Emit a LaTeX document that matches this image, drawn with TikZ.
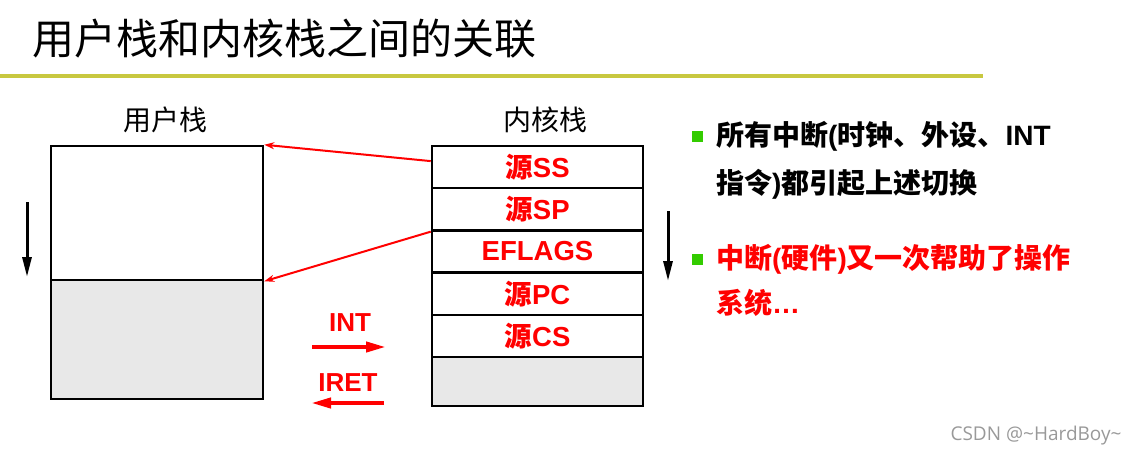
\documentclass[tikz,border=0pt]{standalone}
\usepackage{fontspec}
\setmainfont{Liberation Sans}
\newfontfamily\cjk{Noto Sans CJK SC}
\newfontfamily\wmfont{Open Sans}
\newcommand{\zh}[1]{{\cjk #1}}
\usetikzlibrary{arrows.meta}
\definecolor{titleline}{RGB}{200,200,64}
\definecolor{bulletgreen}{RGB}{51,204,0}
\definecolor{stackgray}{RGB}{232,232,232}
\tikzset{
  redarrow/.style={red, line width=2pt, -{Stealth[length=10pt,width=7pt]}},
  bigarrow/.style={red, line width=4pt, -{Triangle[length=20pt,width=10pt]}},
  growarrow/.style={black, line width=3pt, -{Triangle[length=20pt,width=9pt]}},
  bullet/.style={fill=bulletgreen, minimum size=11pt, inner sep=0pt},
  itemtext/.style={anchor=base west, inner sep=0pt, font=\bfseries\fontsize{28}{28}\selectfont}
}
\begin{document}
\begin{tikzpicture}[x=1pt,y=-1pt]
\useasboundingbox (0,0) rectangle (1137,456);

% title
\node[anchor=west, inner sep=0pt, font=\cjk\fontsize{42}{42}\selectfont] (title) at (32,39) {用户栈和内核栈之间的关联};
\draw[titleline, line width=4pt] (0,76) -- (983,76);

% stack labels
\begin{scope}[every node/.style={font=\cjk\fontsize{28}{28}\selectfont}]
  \node (ulabel) at (165,120) {用户栈};
  \node (klabel) at (545,120) {内核栈};
\end{scope}

% user stack and kernel stack
\begin{scope}[every node/.style={draw, line width=2.5pt, inner sep=0pt, text=red,
    font=\bfseries\fontsize{27.5}{27.5}\selectfont}]
  \node[minimum width=212pt, minimum height=134pt] (utop) at (157,213) {};
  \node[minimum width=212pt, minimum height=119pt, fill=stackgray] (ubot) at (157,339.5) {};

  \node[minimum width=211pt, minimum height=42.2pt] (ss) at (537.5,167.1) {\zh{源}SS};
  \node[minimum width=211pt, minimum height=42.2pt] (sp) at (537.5,209.3) {\zh{源}SP};
  \node[minimum width=211pt, minimum height=42.2pt] (eflags) at (537.5,251.5) {EFLAGS};
  \node[minimum width=211pt, minimum height=42.2pt] (pc) at (537.5,293.7) {\zh{源}PC};
  \node[minimum width=211pt, minimum height=42.2pt] (cs) at (537.5,335.9) {\zh{源}CS};
  \node[minimum width=211pt, minimum height=49pt, fill=stackgray] (kbot) at (537.5,381.5) {};
\end{scope}

% links from kernel stack to user stack
\draw[redarrow] ([yshift=6pt]ss.west) -- (utop.north east);
\draw[redarrow] (sp.south west) -- (utop.south east);

% growth direction
\coordinate (ugrow1) at (27,202);
\coordinate (ugrow2) at (27,277);
\coordinate (kgrow1) at (668,211);
\coordinate (kgrow2) at (668,281);
\draw[growarrow] (ugrow1) -- (ugrow2);
\draw[growarrow] (kgrow1) -- (kgrow2);

% INT / IRET
\begin{scope}[every node/.style={text=red, font=\bfseries\fontsize{26}{26}\selectfont}]
  \node (int) at (350,323) {INT};
  \node (iret) at (348,383) {IRET};
\end{scope}
\coordinate (int1) at (312,347);
\coordinate (int2) at (386,347);
\coordinate (iret1) at (384,403);
\coordinate (iret2) at (311,403);
\draw[bigarrow] (int1) -- (int2);
\draw[bigarrow] (iret1) -- (iret2);

% notes
\node[bullet] (b1) at (697.5,136) {};
\node[bullet] (b2) at (697.5,259.5) {};
\node[itemtext] (n1a) at (716,145) {\zh{所有中断}(\zh{时钟、外设、}INT};
\node[itemtext] (n1b) at (716,193) {\zh{指令})\zh{都引起上述切换}};
\node[itemtext, text=red] (n2a) at (716,268) {\zh{中断}(\zh{硬件})\zh{又一次帮助了操作}};
\node[itemtext, text=red] (n2b) at (716,313) {\zh{系统}…};

% watermark
\node[text=gray!80, font=\wmfont\fontsize{19}{19}\selectfont] (mark) at (1036,436) {CSDN @\textasciitilde HardBoy\textasciitilde};

\end{tikzpicture}
\end{document}
